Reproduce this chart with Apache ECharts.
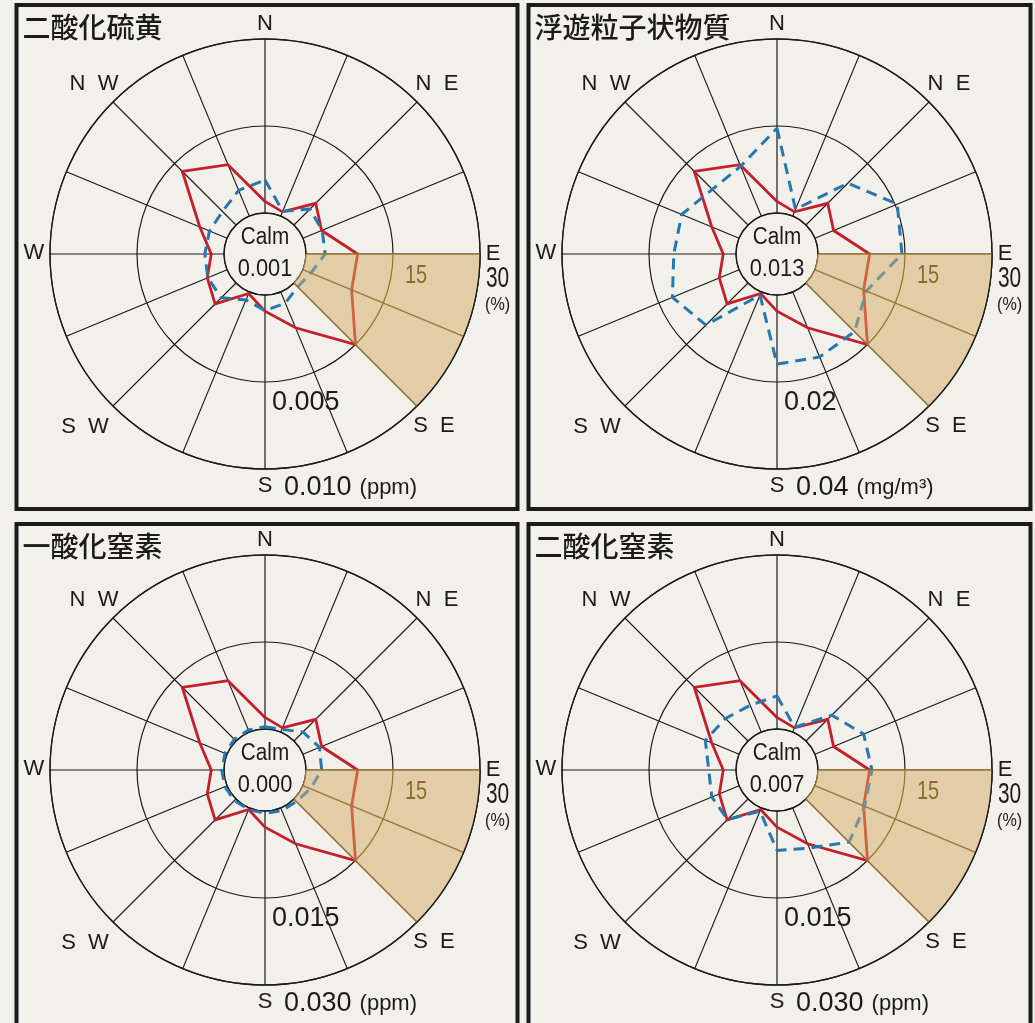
<!DOCTYPE html>
<html>
<head>
<meta charset="utf-8">
<script src="https://cdn.jsdelivr.net/npm/echarts@6/dist/echarts.min.js"></script>
<style>
  html, body { margin: 0; padding: 0; background: #f1f0eb; }
  #chart { width: 1035px; height: 1023px; }
</style>
</head>
<body>
<div id="chart"></div>
<script>
// 16 compass points, clockwise from north, with their bearings in degrees
const DIRS = ['N','NNE','NE','ENE','E','ESE','SE','SSE','S','SSW','SW','WSW','W','WNW','NW','NNW'];
const BEARINGS = [0, 22.5, 45, 67.5, 90, 112.5, 135, 157.5, 180, 202.5, 225, 247.5, 270, 292.5, 315, 337.5];
const DIR_LABELS = { N: 'N', NE: 'N  E', E: 'E', SE: 'S  E', S: 'S', SW: 'S  W', W: 'W', NW: 'N  W' };

// wind direction frequency (%) — one station, shared by all four roses
const WIND_FREQ = [2.0, 0.8, 5.3, 3.5, 8.9, 9.1, 15.0, 6.7, 2.8, 0.3, 5.1, 3.7, 2.2, 5.1, 13.1, 9.6];

// mean concentration by wind direction
const SO2 = [0.0019, 0.0003, 0.0013, 0.0012, 0.0011, 0.0005, 0.0003, 0.0007, 0.0009, 0.0005, 0.0012, 0.0012, 0.0011, 0.0011, 0.0011, 0.0016];
const SPM = [0.0195, 0.0017, 0.0136, 0.0205, 0.0193, 0.0128, 0.0158, 0.0162, 0.0159, 0.0008, 0.0137, 0.0166, 0.0143, 0.0143, 0.0116, 0.0124];
const NO  = [0.0004, 0.0005, 0.0022, 0.0031, 0.0027, 0.0014, 0.0006, 0.0005, 0.0004, 0.0003, 0.0004, 0.0004, 0.0004, 0.0004, 0.0004, 0.0004];
const NO2 = [0.0057, 0.0009, 0.0063, 0.0091, 0.0093, 0.0093, 0.0105, 0.0075, 0.0068, 0.0006, 0.0050, 0.0051, 0.0047, 0.0063, 0.0055, 0.0050];

const TITLES = ['二酸化硫黄', '浮遊粒子状物質', '一酸化窒素', '二酸化窒素'];
const CALM_VALUES = ['0.001', '0.013', '0.000', '0.007'];
const CONC_MAX = [0.010, 0.04, 0.030, 0.030];
const CONC_TICKS = [['0.005', '0.010'], ['0.02', '0.04'], ['0.015', '0.030'], ['0.015', '0.030']];
const UNITS = ['(ppm)', '(mg/m³)', '(ppm)', '(ppm)'];
const FREQ_MAX = 30;
const FREQ_STEP = 15;
const FREQ_TICKS = ['15', '30'];
const SHADE_FROM = 'E';
const SHADE_TO = 'SE';

// layout
const CENTERS = [[265, 254], [777, 254], [265, 770], [777, 770]];
const RADII = [41, 215];
const FRAMES = [[16.5, 5, 501, 504], [528.5, 5, 502, 504], [16.5, 524, 501, 520], [528.5, 524, 502, 520]];
// compass label centres, relative to the rose centre
const DIR_LABEL_POS = { N: [0, -230], NE: [172, -170], E: [228, 0], SE: [169, 172], S: [0, 232], SW: [-180, 173], W: [-231, -1], NW: [-171, -170] };

const INK = '#1b1b1b';
const RED = '#c41f2b';
const BLUE = '#2776ad';
const BAND_BASE = '#dfd2c8';   // under the profiles
const BAND_TINT = '#e6c672';   // printed over the profiles, translucent
const BROWN = '#977737';
const LATIN = '"Liberation Sans", Arial, sans-serif';
const CJK = '"Noto Sans CJK JP", "Noto Sans CJK SC", sans-serif';

const CONC = [SO2, SPM, NO, NO2];
const bearingOf = name => BEARINGS[DIRS.indexOf(name)];
const closedLoop = vals => BEARINGS.map((b, k) => [vals[k], b]).concat([[vals[0], 360]]);

// geometry of the shaded E–SE band in pixel space
function bandGeometry(params, api) {
  const cs = params.coordSys;
  const cx = cs.cx, cy = cs.cy;
  const bFrom = bearingOf(SHADE_FROM), bTo = bearingOf(SHADE_TO);
  const angleOf = b => { const p = api.coord([FREQ_MAX, b]); return Math.atan2(p[1] - cy, p[0] - cx); };
  const radiusOf = v => { const p = api.coord([v, bFrom]); return Math.hypot(p[0] - cx, p[1] - cy); };
  return {
    cx, cy, bFrom, bTo,
    a0: angleOf(bFrom), a1: angleOf(bTo),
    r0: radiusOf(0), rMid: radiusOf(FREQ_STEP), r1: radiusOf(FREQ_MAX)
  };
}

// opaque fill under the profiles
function bandFill(params, api) {
  const g = bandGeometry(params, api);
  return {
    type: 'sector',
    shape: { cx: g.cx, cy: g.cy, r0: g.r0, r: g.r1, startAngle: g.a0, endAngle: g.a1, clockwise: true },
    style: { fill: BAND_BASE }
  };
}

// translucent tint over the profiles plus the band's brown grid
function bandOverlay(params, api) {
  const g = bandGeometry(params, api);
  const children = [{
    type: 'sector',
    shape: { cx: g.cx, cy: g.cy, r0: g.r0, r: g.r1, startAngle: g.a0, endAngle: g.a1, clockwise: true },
    style: { fill: BAND_TINT, opacity: 0.4 }
  }];
  BEARINGS.filter(b => b >= g.bFrom && b <= g.bTo).forEach(b => {
    const a = api.coord([0, b]), e = api.coord([FREQ_MAX, b]);
    children.push({ type: 'line', shape: { x1: a[0], y1: a[1], x2: e[0], y2: e[1] }, style: { stroke: BROWN, lineWidth: 1.4 } });
  });
  [[g.r0, BROWN], [g.rMid, BROWN], [g.r1, INK]].forEach(([r, col]) => {
    children.push({ type: 'arc', shape: { cx: g.cx, cy: g.cy, r, startAngle: g.a0, endAngle: g.a1, clockwise: true }, style: { stroke: col, lineWidth: 1.3, fill: null } });
  });
  return { type: 'group', children };
}

const polar = [], angleAxis = [], radiusAxis = [], series = [], graphic = [];
const txt = (x, y, text, font, fill, align, extra) =>
  Object.assign({ type: 'text', z: 100, x, y, style: { text, font, fill, textAlign: align, textVerticalAlign: 'middle' } }, extra || {});

CENTERS.forEach((c, i) => {
  const pf = 2 * i, pc = 2 * i + 1;
  const [cx, cy] = c;
  polar.push({ center: c, radius: RADII }, { center: c, radius: RADII });

  angleAxis.push({
    polarIndex: pf, type: 'value', min: 0, max: 360, interval: 22.5, startAngle: 90, clockwise: true,
    axisLine: { lineStyle: { color: INK, width: 1.3 } },
    axisTick: { show: false },
    splitLine: { show: true, lineStyle: { color: INK, width: 1.2 } },
    axisLabel: { show: false }
  }, {
    polarIndex: pc, type: 'value', min: 0, max: 360, interval: 22.5, startAngle: 90, clockwise: true,
    axisLine: { show: false }, axisTick: { show: false }, splitLine: { show: false }, axisLabel: { show: false }
  });

  radiusAxis.push({
    polarIndex: pf, type: 'value', min: 0, max: FREQ_MAX, interval: FREQ_STEP,
    axisLine: { show: false }, axisTick: { show: false }, axisLabel: { show: false },
    splitLine: { show: true, lineStyle: { color: INK, width: 1.2 } }
  }, {
    polarIndex: pc, type: 'value', min: 0, max: CONC_MAX[i],
    axisLine: { show: false }, axisTick: { show: false }, axisLabel: { show: false }, splitLine: { show: false }
  });

  series.push({
    type: 'custom', coordinateSystem: 'polar', polarIndex: pf, silent: true, z: 1,
    data: [[FREQ_MAX, bearingOf(SHADE_FROM)]], renderItem: bandFill
  }, {
    name: '風向出現率', type: 'line', coordinateSystem: 'polar', polarIndex: pf, z: 3,
    data: closedLoop(WIND_FREQ), symbol: 'none', silent: true, clip: false,
    lineStyle: { color: RED, width: 2.8, join: 'miter' }
  }, {
    name: '濃度', type: 'line', coordinateSystem: 'polar', polarIndex: pc, z: 4,
    data: closedLoop(CONC[i]), symbol: 'none', silent: true, clip: false,
    lineStyle: { color: BLUE, width: 3, type: [11, 7], cap: 'butt' }
  }, {
    type: 'custom', coordinateSystem: 'polar', polarIndex: pf, silent: true, z: 5,
    data: [[FREQ_MAX, bearingOf(SHADE_FROM)]], renderItem: bandOverlay
  });

  const [fx, fy, fw, fh] = FRAMES[i];
  graphic.push(
    { type: 'rect', z: 100, shape: { x: fx, y: fy, width: fw, height: fh }, style: { fill: null, stroke: INK, lineWidth: 4 } },
    txt(fx + 6, fy + 22, TITLES[i], '500 28px ' + CJK, INK, 'left'),
    txt(cx, cy - 16, 'Calm', '23px ' + LATIN, INK, 'center', { scaleX: 0.9 }),
    txt(cx, cy + 16, CALM_VALUES[i], '23px ' + LATIN, INK, 'center', { scaleX: 0.95 }),
    txt(cx + 140, cy + 22, FREQ_TICKS[0], '25px ' + LATIN, '#8c6b2a', 'left', { scaleX: 0.8 }),
    txt(cx + 221, cy + 25, FREQ_TICKS[1], '29px ' + LATIN, INK, 'left', { scaleX: 0.72 }),
    txt(cx + 220, cy + 51, '(%)', '19px ' + LATIN, INK, 'left', { scaleX: 0.85 }),
    txt(cx + 7, cy + 149, CONC_TICKS[i][0], '27px ' + LATIN, INK, 'left'),
    { type: 'text', z: 100, x: cx + 19, y: cy + 234, style: {
        text: '{v|' + CONC_TICKS[i][1] + '}{u|' + UNITS[i] + '}', textAlign: 'left', textVerticalAlign: 'middle',
        rich: { v: { font: '27px ' + LATIN, fill: INK }, u: { font: '22px ' + LATIN, fill: INK, padding: [0, 0, 0, 8] } } } }
  );
  Object.keys(DIR_LABEL_POS).forEach(d => {
    const [dx, dy] = DIR_LABEL_POS[d];
    graphic.push(txt(cx + dx, cy + dy, DIR_LABELS[d], '22px ' + LATIN, INK, 'center'));
  });
});

const chart = echarts.init(document.getElementById('chart'), null, { renderer: 'canvas' });
chart.setOption({
  animation: false,
  backgroundColor: '#f1f0eb',
  polar, angleAxis, radiusAxis, series, graphic
});
</script>
</body>
</html>
